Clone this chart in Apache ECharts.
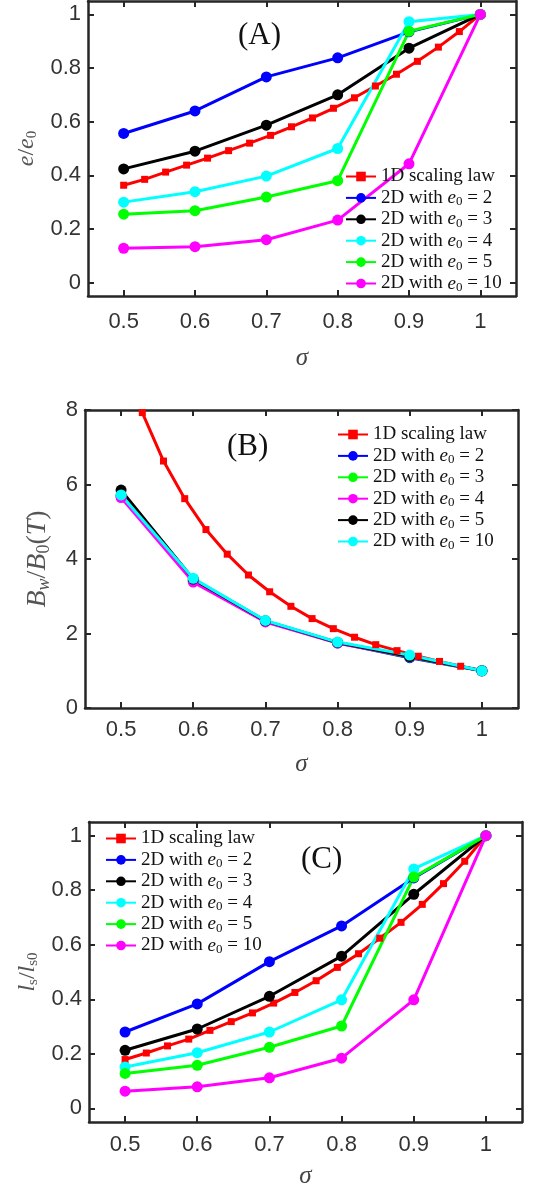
<!DOCTYPE html>
<html>
<head>
<meta charset="utf-8">
<script src="https://cdn.jsdelivr.net/npm/echarts@6/dist/echarts.min.js"></script>
<style>
html,body{margin:0;padding:0;background:#fff;width:540px;height:1185px;overflow:hidden;}
.p{position:absolute;left:0;width:540px;}
</style>
</head>
<body>
<div id="A" class="p" style="top:0;height:370px;"></div>
<div id="B" class="p" style="top:370px;height:410px;"></div>
<div id="C" class="p" style="top:780px;height:405px;"></div>
<script>
// ---------- data ----------
const sigma2D = [0.5, 0.6, 0.7, 0.8, 0.9, 1.0];
const sigma1D = [0.5, 0.5294, 0.5588, 0.5882, 0.6176, 0.6471, 0.6765, 0.7059, 0.7353,
                 0.7647, 0.7941, 0.8235, 0.8529, 0.8824, 0.9118, 0.9412, 0.9706, 1.0];
const sigma1D_B = [0.5294, 0.5588, 0.5882, 0.6176, 0.6471, 0.6765, 0.7059, 0.7353,
                 0.7647, 0.7941, 0.8235, 0.8529, 0.8824, 0.9118, 0.9412, 0.9706, 1.0];

const xTicks = [0.5, 0.6, 0.7, 0.8, 0.9, 1];
const yTicksA = [0, 0.2, 0.4, 0.6, 0.8, 1];
const yTicksB = [0, 2, 4, 6, 8];
const yTicksC = [0, 0.2, 0.4, 0.6, 0.8, 1];

// Panel A: e/e0
const A_1D  = [0.363,0.385,0.412,0.438,0.464,0.492,0.520,0.549,0.581,0.614,0.650,0.689,0.733,0.777,0.825,0.878,0.936,1.0];
const A_e2  = [0.556,0.640,0.767,0.838,0.935,1.0];
const A_e3  = [0.424,0.490,0.587,0.700,0.874,1.0];
const A_e4  = [0.300,0.339,0.397,0.500,0.973,1.0];
const A_e5  = [0.255,0.268,0.319,0.380,0.937,1.0];
const A_e10 = [0.128,0.134,0.160,0.233,0.443,1.0];

// Panel B: Bw/B0(T)
const B_1D  = [7.93,6.63,5.62,4.79,4.13,3.57,3.12,2.73,2.40,2.13,1.90,1.70,1.54,1.39,1.25,1.12,1.01];
const B_e2  = [5.70,3.42,2.33,1.75,1.35,1.0];
const B_e3  = [5.70,3.43,2.33,1.75,1.37,1.0];
const B_e4  = [5.65,3.38,2.31,1.74,1.38,1.0];
const B_e5  = [5.85,3.46,2.34,1.76,1.38,1.0];
const B_e10 = [5.72,3.48,2.35,1.77,1.42,1.0];

// Panel C: ls/ls0
const C_1D  = [0.179,0.203,0.229,0.254,0.286,0.318,0.350,0.386,0.425,0.468,0.517,0.567,0.624,0.682,0.748,0.824,0.906,1.0];
const C_e2  = [0.280,0.383,0.538,0.669,0.845,1.0];
const C_e3  = [0.213,0.291,0.411,0.558,0.785,1.0];
const C_e4  = [0.152,0.204,0.280,0.398,0.878,1.0];
const C_e5  = [0.128,0.158,0.224,0.302,0.848,1.0];
const C_e10 = [0.063,0.079,0.112,0.184,0.398,1.0];

const N1D = '1D scaling law';
const n2D = v => '2D with e0 = ' + v;

// ---------- helpers ----------
const SERIF = '"Liberation Serif", "Times New Roman", serif';
const SANS = '"Liberation Sans", Arial, sans-serif';
const AX = '#262626';

function zip(xs, ys) { return xs.map((x, i) => [x, ys[i]]); }

function lineSeries(name, xs, ys, color, isRect) {
  return {
    type: 'line', name: name, data: zip(xs, ys),
    symbol: isRect ? 'rect' : 'circle',
    symbolSize: isRect ? 7 : 11,
    lineStyle: { color: color, width: 3 },
    itemStyle: { color: color },
    clip: true, animation: false
  };
}

function makeOption(cfg) {
  const subRich = {
    i: { fontStyle: 'italic', fontFamily: SERIF, fontSize: 19, lineHeight: 21, color: '#111' },
    s: { fontFamily: SERIF, fontSize: 13, lineHeight: 13, verticalAlign: 'bottom', color: '#111' }
  };
  const nameSize = cfg.yNameSize || 24;
  const subSize = Math.round(nameSize * 0.63);
  const axisCommonX = {
    type: 'value', min: 0.45, max: 1.05,
    axisLine: { show: true, onZero: false, lineStyle: { color: AX, width: 2.5 } },
    axisTick: { show: true, inside: true, length: 6, customValues: xTicks, lineStyle: { color: AX, width: 2 } },
    splitLine: { show: false }
  };
  const axisCommonY = {
    type: 'value', min: cfg.ymin, max: cfg.ymax,
    axisLine: { show: true, onZero: false, lineStyle: { color: AX, width: 2.5 } },
    axisTick: { show: true, inside: true, length: 6, customValues: cfg.yTicks, lineStyle: { color: AX, width: 2 } },
    splitLine: { show: false }
  };
  return {
    animation: false,
    backgroundColor: '#fff',
    grid: { left: cfg.grid.left, top: cfg.grid.top, width: cfg.grid.width, height: cfg.grid.height,
            containLabel: false, outerBoundsMode: 'none' },
    xAxis: [
      Object.assign({}, axisCommonX, {
        position: 'bottom',
        axisLabel: { customValues: xTicks, margin: cfg.xLabelMargin, fontFamily: SANS, fontSize: 22, color: '#333',
          formatter: v => String(v) },
        name: 'σ', nameLocation: 'middle', nameGap: cfg.xNameGap,
        nameTextStyle: { fontFamily: SERIF, fontStyle: 'italic', fontSize: 25, color: '#444' }
      }),
      Object.assign({}, axisCommonX, { position: 'top', axisLabel: { show: false } })
    ],
    yAxis: [
      Object.assign({}, axisCommonY, {
        position: 'left',
        axisLabel: { customValues: cfg.yTicks, margin: 7, fontFamily: SANS, fontSize: 22, color: '#333',
          formatter: v => String(v) },
        name: cfg.yName, nameLocation: 'middle', nameGap: cfg.yNameGap, nameRotate: 90,
        nameTextStyle: {
          fontFamily: SERIF, fontSize: nameSize, color: '#555',
          rich: {
            i: { fontStyle: 'italic', fontFamily: SERIF, fontSize: nameSize, lineHeight: nameSize + 2, color: '#555' },
            r: { fontFamily: SERIF, fontSize: nameSize, lineHeight: nameSize + 2, color: '#555' },
            s: { fontFamily: SERIF, fontSize: subSize, lineHeight: subSize, verticalAlign: 'bottom', color: '#555' },
            si: { fontFamily: SERIF, fontStyle: 'italic', fontSize: subSize, lineHeight: subSize, verticalAlign: 'bottom', color: '#555' }
          }
        }
      }),
      Object.assign({}, axisCommonY, { position: 'right', axisLabel: { show: false } })
    ],
    legend: {
      orient: 'vertical', left: cfg.legend.left, top: cfg.legend.top,
      padding: 0, itemGap: 0.4, itemWidth: 30, itemHeight: 12,
      data: cfg.series.map(s => s.name),
      formatter: name => name.replace('e0', '{i|e}{s|0}'),
      textStyle: { fontFamily: SERIF, fontSize: 19, lineHeight: 21, color: '#111', rich: subRich }
    },
    graphic: [{
      type: 'text', left: cfg.label.x, top: cfg.label.y,
      style: { text: cfg.label.text, fontFamily: SERIF, fontSize: 31, fill: '#111' }
    }],
    series: cfg.series
  };
}

// ---------- panel A ----------
const optA = makeOption({
  grid: { left: 88, top: 1, width: 428, height: 295 },
  ymin: -0.05, ymax: 1.05, yTicks: yTicksA,
  xLabelMargin: 15, xNameGap: 50, yNameGap: 46,
  yName: '{i|e}{r|/}{i|e}{s|0}',
  legend: { left: 345, top: 166 },
  label: { text: '(A)', x: 238, y: 20 },
  series: [
    lineSeries(N1D, sigma1D, A_1D, '#ff0000', true),
    lineSeries(n2D(2), sigma2D, A_e2, '#0000ff'),
    lineSeries(n2D(3), sigma2D, A_e3, '#000000'),
    lineSeries(n2D(4), sigma2D, A_e4, '#00ffff'),
    lineSeries(n2D(5), sigma2D, A_e5, '#00ff00'),
    lineSeries(n2D(10), sigma2D, A_e10, '#ff00ff')
  ]
});

// ---------- panel B ----------
const optB = makeOption({
  grid: { left: 85, top: 40, width: 433, height: 298 },
  ymin: 0, ymax: 8, yTicks: yTicksB,
  xLabelMargin: 11, xNameGap: 44, yNameGap: 32, yNameSize: 28,
  yName: '{i|B}{si|w}{r|/}{i|B}{s|0}{r|(}{i|T}{r|)}',
  legend: { left: 337, top: 54 },
  label: { text: '(B)', x: 227, y: 61 },
  series: [
    lineSeries(N1D, sigma1D_B, B_1D, '#ff0000', true),
    lineSeries(n2D(2), sigma2D, B_e2, '#0000ff'),
    lineSeries(n2D(3), sigma2D, B_e3, '#00ff00'),
    lineSeries(n2D(4), sigma2D, B_e4, '#ff00ff'),
    lineSeries(n2D(5), sigma2D, B_e5, '#000000'),
    lineSeries(n2D(10), sigma2D, B_e10, '#00ffff')
  ]
});

// ---------- panel C ----------
const optC = makeOption({
  grid: { left: 89, top: 42, width: 433, height: 300 },
  ymin: -0.05, ymax: 1.05, yTicks: yTicksC,
  xLabelMargin: 12, xNameGap: 42, yNameGap: 47,
  yName: '{i|l}{s|s}{r|/}{i|l}{s|s0}',
  legend: { left: 105, top: 48 },
  label: { text: '(C)', x: 301, y: 64 },
  series: [
    lineSeries(N1D, sigma1D, C_1D, '#ff0000', true),
    lineSeries(n2D(2), sigma2D, C_e2, '#0000ff'),
    lineSeries(n2D(3), sigma2D, C_e3, '#000000'),
    lineSeries(n2D(4), sigma2D, C_e4, '#00ffff'),
    lineSeries(n2D(5), sigma2D, C_e5, '#00ff00'),
    lineSeries(n2D(10), sigma2D, C_e10, '#ff00ff')
  ]
});

echarts.init(document.getElementById('A'), null, { renderer: 'canvas' }).setOption(optA);
echarts.init(document.getElementById('B'), null, { renderer: 'canvas' }).setOption(optB);
echarts.init(document.getElementById('C'), null, { renderer: 'canvas' }).setOption(optC);
</script>
</body>
</html>
